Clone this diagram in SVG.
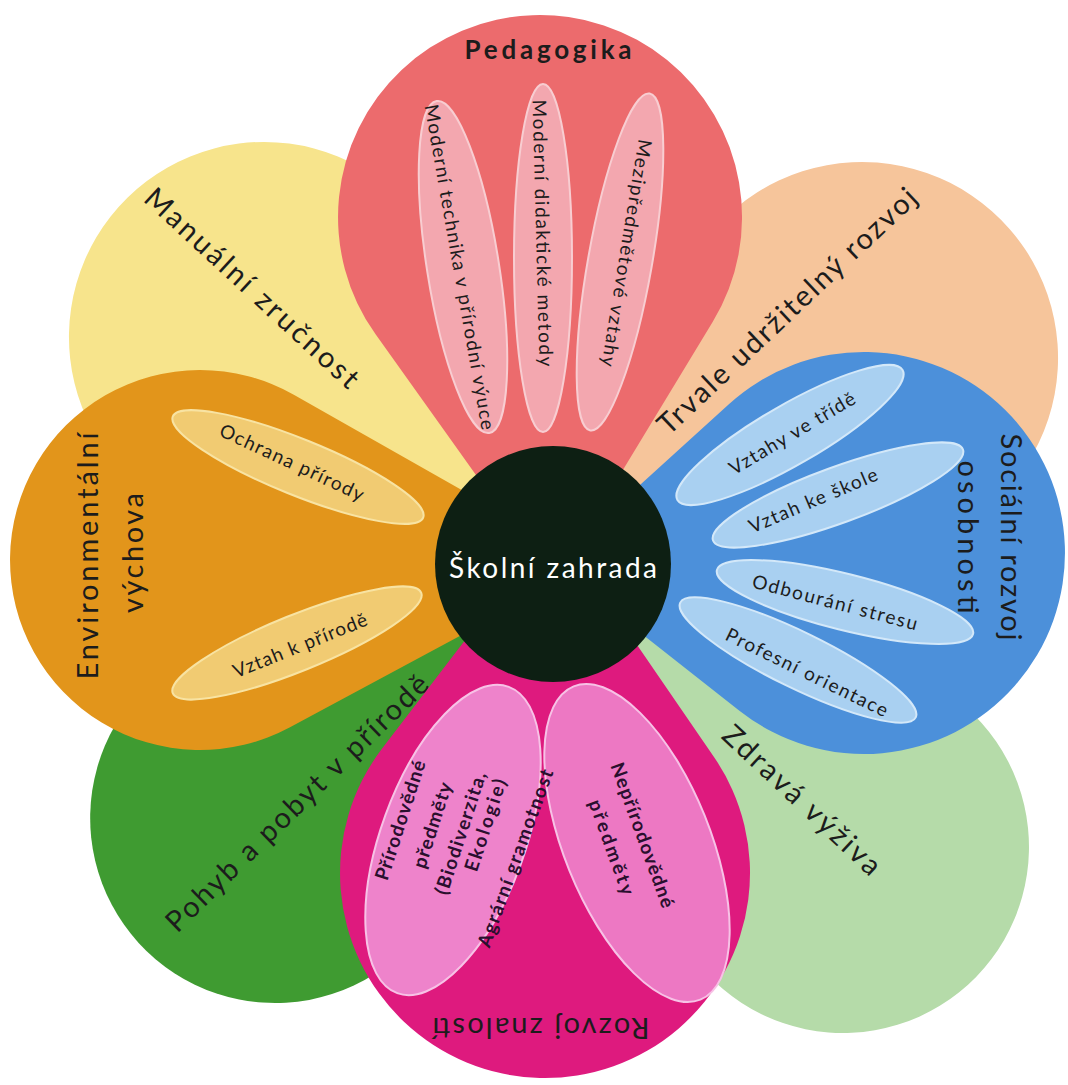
<svg xmlns="http://www.w3.org/2000/svg" width="1068" height="1085" viewBox="0 0 1068 1085">
<style>
.t{font-family:Lato,"Liberation Sans",sans-serif;fill:#1c1c1c;text-anchor:middle}
.title{font-size:29px}
.sub{font-size:19px}
.mg{font-size:19px;font-weight:bold;fill:#2a0f2e}
.el-red{fill:#F3A7AF;stroke:#F8CDD1;stroke-width:2}
.el-or{fill:#F1CB72;stroke:#F8E3A2;stroke-width:2}
.el-bl{fill:#A9D0F1;stroke:#D3E8F9;stroke-width:2}
.el-mg{fill:#EE83CB;stroke:#F7C2E6;stroke-width:2}
</style>
<rect width="1068" height="1085" fill="#ffffff"/>

<g id="petal-manualni">
<path fill="#F7E48C" transform="translate(553 564) rotate(-51.85)" d="M0,40 L171.2,-274.2 A195,195 0 1 0 -171.2,-274.2 Z"/>
<text class="t title" transform="translate(252 288) rotate(42.7)" y="10" textLength="280">Manuální zručnost</text>
</g>

<g id="petal-trvale">
<path fill="#F6C59B" transform="translate(553 564) rotate(56.31)" d="M0,40 L172.3,-278 A196,196 0 1 0 -172.3,-278 Z"/>
<text class="t title" transform="translate(787 311) rotate(-43.3)" y="10" textLength="344">Trvale udržitelný rozvoj</text>
</g>

<g id="petal-pohyb">
<path fill="#3F9B31" transform="translate(553 564) rotate(-132.44)" d="M0,40 L165.8,-294.4 A185,185 0 1 0 -165.8,-294.4 Z"/>
<text class="t title" transform="translate(297 803) rotate(-44.3)" y="10" textLength="354">Pohyb a pobyt v přírodě</text>
</g>

<g id="petal-zdrava">
<path fill="#B5DBA9" transform="translate(553 564) rotate(134.3)" d="M0,40 L169,-327.5 A186,186 0 1 0 -169,-327.5 Z"/>
<text class="t title" transform="translate(802 800) rotate(43)" y="10" textLength="205">Zdravá výživa</text>
</g>

<g id="petal-pedagogika">
<path fill="#EC6B6D" transform="translate(553 564) rotate(-2.14)" d="M0,20 L168.7,-236.1 A202,202 0 1 0 -168.7,-236.1 Z"/>
<text class="t" x="548" y="59" font-size="26" font-weight="bold" textLength="167">Pedagogika</text>
<ellipse class="el-red" cx="463" cy="267" rx="36" ry="168" transform="rotate(-9 463 267)"/>
<ellipse class="el-red" cx="543" cy="258" rx="29" ry="174"/>
<ellipse class="el-red" cx="620" cy="262" rx="32" ry="171" transform="rotate(10 620 262)"/>
<text class="t sub" transform="translate(460 267) rotate(80)" y="7" textLength="330">Moderní technika v přírodní výuce</text>
<text class="t sub" transform="translate(543 233) rotate(88.5)" y="7" textLength="267">Moderní didaktické metody</text>
<text class="t sub" transform="translate(627 253) rotate(99.3)" y="7" textLength="230">Mezipředmětové vztahy</text>
</g>

<g id="petal-environmentalni">
<path fill="#E2951B" transform="translate(553 564) rotate(-89.35)" d="M0,40 L166.3,-261.1 A190,190 0 1 0 -166.3,-261.1 Z"/>
<text class="t title" transform="translate(88 556) rotate(-90)" y="10" textLength="247">Environmentální</text>
<text class="t title" transform="translate(133 553) rotate(-90)" y="10" textLength="120">výchova</text>
<ellipse class="el-or" cx="298" cy="467" rx="135" ry="28" transform="rotate(22 298 467)"/>
<ellipse class="el-or" cx="297" cy="643" rx="134" ry="28" transform="rotate(-22 297 643)"/>
<text class="t sub" transform="translate(292 462) rotate(25)" y="7" textLength="157">Ochrana přírody</text>
<text class="t sub" transform="translate(300 645) rotate(-22)" y="7" textLength="143">Vztah k přírodě</text>
</g>

<g id="petal-socialni">
<path fill="#4C90DA" transform="translate(553 564) rotate(87.97)" d="M0,0 L153.5,-181.4 A201,201 0 1 0 -153.5,-181.4 Z"/>
<text class="t title" transform="translate(1011 537) rotate(90)" y="10" textLength="207">Sociální rozvoj</text>
<text class="t title" transform="translate(968 537) rotate(90)" y="10" textLength="153">osobnosti</text>
<ellipse class="el-bl" cx="790" cy="435" rx="130" ry="30" transform="rotate(-30 790 435)"/>
<ellipse class="el-bl" cx="838" cy="495" rx="133" ry="28" transform="rotate(-20 838 495)"/>
<ellipse class="el-bl" cx="845" cy="602" rx="132" ry="28" transform="rotate(14 845 602)"/>
<ellipse class="el-bl" cx="798" cy="660" rx="131" ry="28" transform="rotate(26 798 660)"/>
<text class="t sub" transform="translate(792 433) rotate(-30.7)" y="7" textLength="143">Vztahy ve třídě</text>
<text class="t sub" transform="translate(813 500) rotate(-23)" y="7" textLength="138">Vztah ke škole</text>
<text class="t sub" transform="translate(835 602) rotate(14.7)" y="7" textLength="170">Odbourání stresu</text>
<text class="t sub" transform="translate(807 672) rotate(26)" y="7" textLength="178">Profesní orientace</text>
</g>

<g id="petal-rozvoj-znalosti">
<path fill="#DE1A7E" transform="translate(553 564) rotate(181.48)" d="M0,40 L165.9,-188.7 A205,205 0 1 0 -165.9,-188.7 Z"/>
<text class="t title" transform="translate(541 1028) rotate(180)" y="10" textLength="217">Rozvoj znalostí</text>
<ellipse class="el-mg" cx="453" cy="840" rx="72" ry="163" transform="rotate(20 453 840)"/>
<ellipse class="el-mg" cx="637" cy="843" rx="73" ry="169" transform="rotate(-22 637 843)" fill-opacity="0.9"/>
<text class="t mg" transform="translate(400 820) rotate(-72)" y="7" textLength="125">Přírodovědné</text>
<text class="t mg" transform="translate(432 825) rotate(-72)" y="7" textLength="89">předměty</text>
<text class="t mg" transform="translate(460 833) rotate(-72)" y="7" textLength="128">(Biodiverzita,</text>
<text class="t mg" transform="translate(485 825) rotate(-72)" y="7" textLength="96">Ekologie)</text>
<text class="t mg" transform="translate(515 858) rotate(-70)" y="7" textLength="188">Agrární gramotnost</text>
<text class="t mg" transform="translate(643 835) rotate(70)" y="7" textLength="153">Nepřírodovědné</text>
<text class="t mg" transform="translate(612 847) rotate(70)" y="7" textLength="100">předměty</text>
</g>

<g id="center">
<circle cx="553" cy="564" r="118" fill="#0D1F13"/>
<text class="t" x="553" y="578" font-size="28" style="fill:#ffffff" textLength="208">Školní zahrada</text>
</g>
</svg>
